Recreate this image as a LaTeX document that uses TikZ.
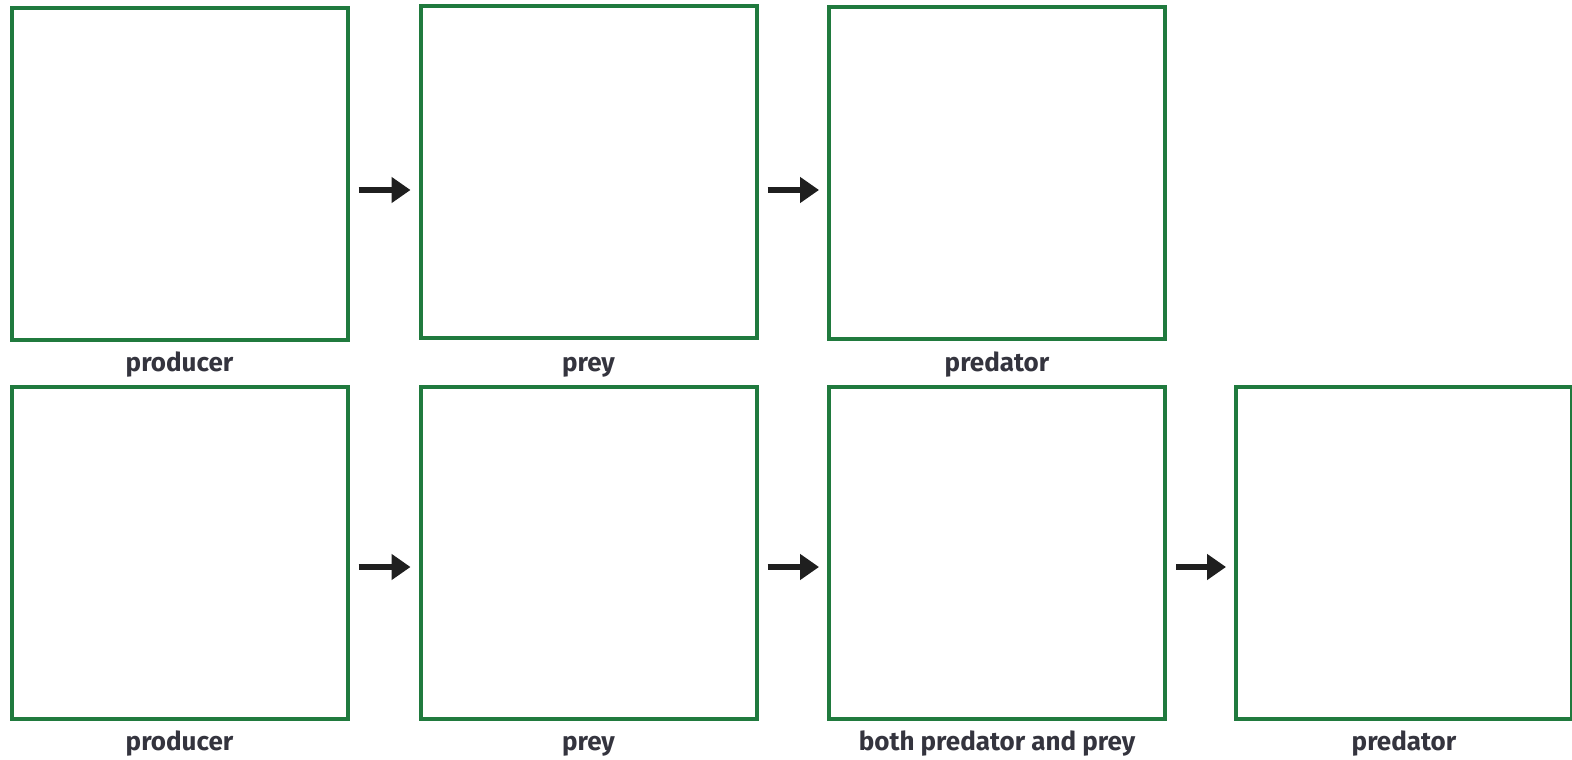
\documentclass[tikz,border=0pt]{standalone}
\usepackage{fontspec}
\setsansfont{Fira Sans}
\usetikzlibrary{arrows.meta,positioning}
\definecolor{boxgreen}{RGB}{32,122,62}
\definecolor{lbltext}{RGB}{52,52,62}
\tikzset{
  food_box/.style = {rectangle, draw=boxgreen, line width=4pt, fill=white,
    minimum width=336pt, minimum height=332pt, inner sep=0pt},
  food_lbl/.style = {align=center, inner sep=0pt, text=lbltext, anchor=base,
    font=\sffamily\bfseries\fontsize{26}{31}\selectfont},
  food_arr/.style = {line width=6.5pt, draw=black!88,
    -{Triangle[length=19pt,width=25pt]}, shorten <=9pt, shorten >=8pt}
}
\begin{document}
\begin{tikzpicture}[x=1pt,y=-1pt]
  \useasboundingbox (0,0) rectangle (1572,760);
                  % top chain
                  \node [food_box] (ta) at (179.5,174) {};
                  \node [food_box] (tb) at (588.5,172) {};
                  \node [food_box] (tc) at (997,173) {};
                  \node [food_lbl] (ta_l) at ([yshift=-29pt]ta.south) {producer};
                  \node [food_lbl] (tb_l) at ([yshift=-31pt]tb.south) {prey};
                  \node [food_lbl] (tc_l) at ([yshift=-30pt]tc.south) {predator};
                  % bottom chain
                  \node [food_box] (ba) at (179.5,553) {};
                  \node [food_box] (bb) at (588.5,553) {};
                  \node [food_box] (bc) at (997,553) {};
                  \node [food_box] (bd) at (1404,553) {};
                  \node [food_lbl] (ba_l) at ([yshift=-29pt]ba.south) {producer};
                  \node [food_lbl] (bb_l) at ([yshift=-29pt]bb.south) {prey};
                  \node [food_lbl] (bc_l) at ([yshift=-29pt]bc.south) {both predator and prey};
                  \node [food_lbl] (bd_l) at ([yshift=-29pt]bd.south) {predator};
                  % arrows
                  \draw [food_arr] ([yshift=-16pt]ta.east) -- ([yshift=-16pt]ta.east -| tb.west);
                  \draw [food_arr] ([yshift=-18pt]tb.east) -- ([yshift=-18pt]tb.east -| tc.west);
                  \draw [food_arr] ([yshift=-14pt]ba.east) -- ([yshift=-14pt]ba.east -| bb.west);
                  \draw [food_arr] ([yshift=-14pt]bb.east) -- ([yshift=-14pt]bb.east -| bc.west);
                  \draw [food_arr] ([yshift=-14pt]bc.east) -- ([yshift=-14pt]bc.east -| bd.west);
\end{tikzpicture}
\end{document}
